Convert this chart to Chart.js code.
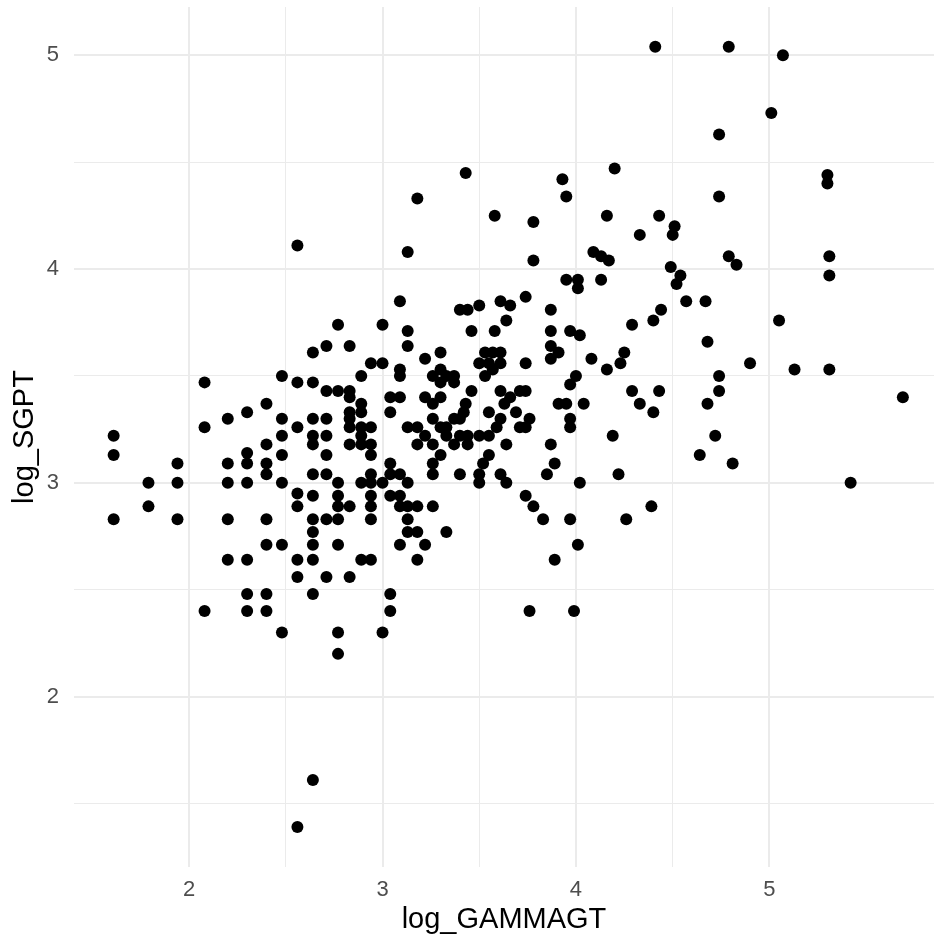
<!DOCTYPE html>
<html>
<head>
<meta charset="utf-8">
<script src="https://cdn.jsdelivr.net/npm/chart.js@4.4.1/dist/chart.umd.min.js"></script>
<style>
  html, body { margin: 0; padding: 0; background: #fff; overflow: hidden; }
</style>
</head>
<body>
<canvas id="scatter" width="940" height="938"></canvas>
<script>
// log_GAMMAGT (x) and log_SGPT (y)
const logGammagt = [
  1.61, 1.61, 1.61, 1.79, 1.79, 1.94, 1.94, 1.94,
  2.08, 2.08, 2.08, 2.20, 2.20, 2.20, 2.20, 2.20,
  2.30, 2.30, 2.30, 2.30, 2.30, 2.30, 2.30,
  2.40, 2.40, 2.40, 2.40, 2.40, 2.40, 2.40, 2.40,
  2.48, 2.48, 2.48, 2.48, 2.48, 2.48, 2.48,
  2.56, 2.56, 2.56, 2.56, 2.56, 2.56, 2.56, 2.56,
  2.64, 2.64, 2.64, 2.64, 2.64, 2.64, 2.64, 2.64, 2.64, 2.64, 2.64, 2.64, 2.64,
  2.71, 2.71, 2.71, 2.71, 2.71, 2.71, 2.71, 2.71,
  2.77, 2.77, 2.77, 2.77, 2.77, 2.77, 2.77, 2.77, 2.77,
  2.83, 2.83, 2.83, 2.83, 2.83, 2.83, 2.83, 2.83, 2.83,
  2.89, 2.89, 2.89, 2.89, 2.89, 2.89, 2.89, 2.89,
  2.94, 2.94, 2.94, 2.94, 2.94, 2.94, 2.94, 2.94, 2.94, 2.94,
  3.00, 3.00, 3.00, 3.00,
  3.04, 3.04, 3.04, 3.04, 3.04, 3.04, 3.04,
  3.09, 3.09, 3.09, 3.09, 3.09, 3.09, 3.09, 3.09,
  3.13, 3.13, 3.13, 3.13, 3.13, 3.13, 3.13, 3.13,
  3.18, 3.18, 3.18, 3.18, 3.18, 3.18,
  3.22, 3.22, 3.22, 3.22,
  3.26, 3.26, 3.26, 3.26, 3.26, 3.26, 3.26,
  3.30, 3.30, 3.30, 3.30, 3.30, 3.30,
  3.33, 3.33, 3.33, 3.33,
  3.37, 3.37, 3.37, 3.37,
  3.40, 3.40, 3.40, 3.40,
  3.43, 3.43, 3.42, 3.44, 3.44, 3.44, 3.46, 3.46,
  3.50, 3.50, 3.50, 3.50, 3.50,
  3.53, 3.53, 3.52, 3.55, 3.55, 3.55, 3.55, 3.57, 3.57,
  3.58, 3.58, 3.59,
  3.61, 3.61, 3.61, 3.61, 3.61, 3.61, 3.63, 3.64, 3.64, 3.64, 3.66, 3.66, 3.69,
  3.71, 3.71, 3.74, 3.74, 3.74, 3.74, 3.74, 3.76, 3.76,
  3.78, 3.78, 3.78, 3.83, 3.85,
  3.87, 3.87, 3.87, 3.87, 3.87, 3.89, 3.89, 3.91, 3.91,
  3.93, 3.95, 3.95, 3.95, 3.97, 3.97, 3.97, 3.97, 3.97, 3.99,
  4.00, 4.01, 4.01, 4.01, 4.02, 4.02, 4.04, 4.08, 4.09,
  4.13, 4.13, 4.16, 4.16, 4.17, 4.19, 4.20, 4.22, 4.23, 4.25, 4.26,
  4.29, 4.29, 4.33, 4.33, 4.39, 4.40, 4.40, 4.41, 4.43, 4.43, 4.44,
  4.49, 4.50, 4.51, 4.52, 4.54, 4.57, 4.64, 4.67, 4.68, 4.68, 4.72,
  4.74, 4.74, 4.74, 4.74, 4.79, 4.79, 4.81, 4.83, 4.90,
  5.01, 5.05, 5.07, 5.13, 5.30, 5.30, 5.31, 5.31, 5.31, 5.42, 5.69
];
const logSgpt = [
  3.22, 3.13, 2.83, 3.00, 2.89, 3.09, 3.00, 2.83,
  3.47, 3.26, 2.40, 3.30, 3.09, 3.00, 2.83, 2.64,
  3.33, 3.14, 3.09, 3.00, 2.64, 2.48, 2.40,
  3.37, 3.18, 3.09, 3.04, 2.83, 2.71, 2.48, 2.40,
  3.50, 3.30, 3.22, 3.13, 3.00, 2.71, 2.30,
  4.11, 3.47, 3.26, 2.95, 2.89, 2.64, 2.56, 1.39,
  3.61, 3.47, 3.30, 3.22, 3.18, 3.04, 2.94, 2.83, 2.77, 2.71, 2.64, 2.48, 1.61,
  3.64, 3.43, 3.30, 3.22, 3.13, 3.04, 2.83, 2.56,
  3.74, 3.43, 3.00, 2.94, 2.89, 2.83, 2.71, 2.30, 2.20,
  3.64, 3.43, 3.40, 3.33, 3.30, 3.26, 3.18, 2.89, 2.56,
  3.50, 3.37, 3.33, 3.26, 3.22, 3.18, 3.00, 2.64,
  3.56, 3.26, 3.18, 3.13, 3.04, 3.00, 2.94, 2.89, 2.83, 2.64,
  3.74, 3.56, 3.00, 2.30,
  3.40, 3.33, 3.09, 3.04, 2.94, 2.48, 2.40,
  3.85, 3.53, 3.50, 3.40, 3.04, 2.94, 2.89, 2.71,
  4.08, 3.71, 3.64, 3.26, 3.00, 2.89, 2.83, 2.77,
  4.33, 3.26, 3.18, 2.89, 2.77, 2.64,
  3.58, 3.40, 3.22, 2.71,
  3.50, 3.37, 3.30, 3.18, 3.09, 3.04, 2.89,
  3.61, 3.53, 3.47, 3.40, 3.26, 3.13,
  3.50, 3.26, 3.22, 2.77,
  3.50, 3.47, 3.30, 3.18,
  3.81, 3.30, 3.22, 3.04,
  4.45, 3.37, 3.33, 3.81, 3.22, 3.18, 3.71, 3.43,
  3.83, 3.56, 3.22, 3.04, 3.00,
  3.61, 3.50, 3.09, 3.56, 3.33, 3.22, 3.13, 3.61, 3.53,
  4.25, 3.71, 3.26,
  3.85, 3.61, 3.56, 3.43, 3.30, 3.04, 3.37, 3.76, 3.18, 3.00, 3.83, 3.40, 3.33,
  3.43, 3.26, 3.87, 3.56, 3.43, 3.26, 2.94, 3.30, 2.40,
  4.22, 4.04, 2.89, 2.83, 3.04,
  3.81, 3.71, 3.64, 3.58, 3.18, 3.09, 2.64, 3.61, 3.37,
  4.42, 4.34, 3.95, 3.37, 3.71, 3.46, 3.30, 3.26, 2.83, 2.40,
  3.50, 3.95, 3.91, 2.71, 3.69, 3.00, 3.37, 3.58, 4.08,
  4.06, 3.95, 4.25, 3.53, 4.04, 3.22, 4.47, 3.04, 3.56, 3.61, 2.83,
  3.74, 3.43, 4.16, 3.37, 2.89, 3.76, 3.33, 5.04, 4.25, 3.43, 3.81,
  4.01, 4.16, 4.20, 3.93, 3.97, 3.85, 3.13, 3.85, 3.66, 3.37, 3.22,
  4.63, 4.34, 3.50, 3.43, 5.04, 4.06, 3.09, 4.02, 3.56,
  4.73, 3.76, 5.00, 3.53, 4.44, 4.40, 4.06, 3.97, 3.53, 3.00, 3.40
];

const xTickLabels = ['2', '3', '4', '5'];
const yTickLabels = ['2', '3', '4', '5'];

const points = logGammagt.map((x, i) => ({ x: x, y: logSgpt[i] }));

const fontFamily = '"Liberation Sans", Arial, Helvetica, sans-serif';
const gridColor = '#ebebeb';

// keep only ticks on the half-unit grid (drop the explicit min/max ticks)
function halfSteps(scale) {
    scale.ticks = scale.ticks.filter(t => Math.abs(t.value * 2 - Math.round(t.value * 2)) < 1e-6);
}

function isMajor(v) {
    return Math.abs(v - Math.round(v)) < 1e-6;
}

// fixed axis sizes so the panel lands where the reference has it
function fitX(scale) {
    scale.height = 71;
    scale.paddingLeft = 0;
    scale.paddingRight = 0;
}

function fitY(scale) {
    scale.width = 74;
    scale.paddingTop = 0;
    scale.paddingBottom = 0;
}

const ctx = document.getElementById('scatter').getContext('2d');
new Chart(ctx, {
    type: 'scatter',
    data: {
        datasets: [{
            label: 'log_SGPT',
            data: points,
            backgroundColor: '#000000',
            borderWidth: 0,
            pointRadius: 6,
            pointHoverRadius: 6
        }]
    },
    options: {
        responsive: false,
        animation: false,
        devicePixelRatio: 1,
        events: [],
        layout: { padding: { top: 7, right: 0, bottom: 0, left: 0 } },
        plugins: {
            legend: { display: false },
            tooltip: { enabled: false }
        },
        scales: {
            x: {
                type: 'linear',
                min: 1.405,
                max: 5.851,
                afterBuildTicks: halfSteps,
                afterFit: fitX,
                border: { display: false },
                grid: {
                    drawTicks: false,
                    color: gridColor,
                    lineWidth: (c) => isMajor(c.tick.value) ? 2 : 1
                },
                ticks: {
                    stepSize: 0.5,
                    padding: 10,
                    maxRotation: 0,
                    autoSkip: false,
                    color: '#4d4d4d',
                    font: { family: fontFamily, size: 22 },
                    callback: (v) => xTickLabels.includes(String(v)) ? String(v) : ''
                },
                title: {
                    display: true,
                    text: 'log_GAMMAGT',
                    color: '#000000',
                    font: { family: fontFamily, size: 29 },
                    padding: { top: 0, bottom: 1 }
                }
            },
            y: {
                type: 'linear',
                min: 1.203,
                max: 5.226,
                afterBuildTicks: halfSteps,
                afterFit: fitY,
                border: { display: false },
                grid: {
                    drawTicks: false,
                    color: gridColor,
                    lineWidth: (c) => isMajor(c.tick.value) ? 2 : 1
                },
                ticks: {
                    stepSize: 0.5,
                    padding: 15,
                    autoSkip: false,
                    color: '#4d4d4d',
                    font: { family: fontFamily, size: 22 },
                    callback: (v) => yTickLabels.includes(String(v)) ? String(v) : ''
                },
                title: {
                    display: true,
                    text: 'log_SGPT',
                    color: '#000000',
                    font: { family: fontFamily, size: 29 },
                    padding: { top: 8, bottom: 0 }
                }
            }
        }
    }
});
</script>
</body>
</html>
